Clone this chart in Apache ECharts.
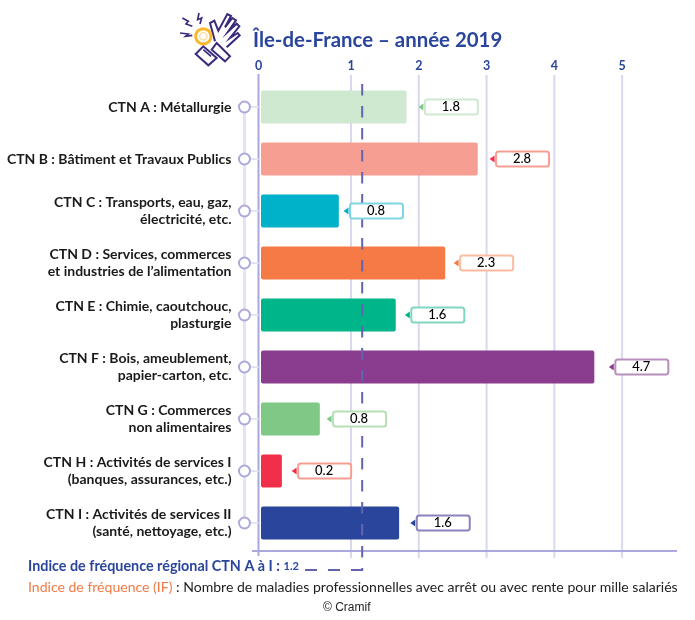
<!DOCTYPE html>
<html><head><meta charset="utf-8">
<style>html,body{margin:0;padding:0;background:#fff}#c{width:695px;height:620px}</style>
<script src="https://cdn.jsdelivr.net/npm/echarts@6/dist/echarts.min.js"></script>
</head><body><div id="c"></div>
<script>
const categories = ["CTN A : Métallurgie","CTN B : Bâtiment et Travaux Publics","CTN C : Transports, eau, gaz,\nélectricité, etc.","CTN D : Services, commerces\net industries de l’alimentation","CTN E : Chimie, caoutchouc,\nplasturgie","CTN F : Bois, ameublement,\npapier-carton, etc.","CTN G : Commerces\nnon alimentaires","CTN H : Activités de services I\n(banques, assurances, etc.)","CTN I : Activités de services II\n(santé, nettoyage, etc.)"];
const printedValues = ["1.8","2.8","0.8","2.3","1.6","4.7","0.8","0.2","1.6"];
const barValues = [1.82,2.87,0.82,2.39,1.66,4.59,0.54,-0.02,1.71];
const calloutStarts = [2.09,3.14,0.985,2.61,1.89,4.90,0.735,0.22,1.97];
const barColors = ["#cfe8d0","#f79e92","#00b2c9","#f57a45","#00b58a","#8a3d8e","#80c885","#f22f4a","#2a459c"];
const calloutBorders = ["#cfe8d0","#f79e92","#7fd6e2","#fbbc9f","#7fd6c2","#b78fbb","#b4e0b4","#f79e92","#8c82bd"];
const calloutTips = ["#80c885","#f22f4a","#00b2c9","#f57a45","#00b58a","#8a3d8e","#80c885","#f22f4a","#2a459c"];
const axisZero = -0.365, barStart = -0.328;
const tickValues = [axisZero,1,2,3,4,5];
const regionalLine = 1.165;
const navy = "#2a459c", grid = "#d8d8ee", strong = "#aaa8dc";
const FONT = "Lato";

const frame = (p, api) => {
  const ch = tickValues.map((v,i) => {
    const x = api.coord([v,0])[0];
    return {type:'line',shape:{x1:x,y1:i?75:74,x2:x,y2:i?558:556},style:{stroke:i?grid:strong,lineWidth:2}};
  });
  const left = api.coord([axisZero,0])[0], right = api.coord([5.81,0])[0];
  ch.push({type:'line',shape:{x1:left-6.5,y1:551,x2:right,y2:551},style:{stroke:strong,lineWidth:2}});
  const top = api.coord([axisZero,0]), bot = api.coord([axisZero,categories.length-1]);
  ch.push({type:'line',shape:{x1:top[0]-14,y1:top[1],x2:top[0]-14,y2:bot[1]},style:{stroke:'#e3e3f3',lineWidth:3}});
  categories.forEach((c,i)=>{
    const pt = api.coord([axisZero,i]);
    ch.push({type:'line',shape:{x1:pt[0]-14,y1:pt[1],x2:pt[0],y2:pt[1]},style:{stroke:'#e3e3f3',lineWidth:2}});
    ch.push({type:'circle',shape:{cx:pt[0]-14,cy:pt[1],r:5.5},style:{fill:'#fff',stroke:strong,lineWidth:2}});
  });
  return {type:'group',children:ch};
};
const bar = (p, api) => {
  const i = p.dataIndex, a = api.coord([barStart,i]), b = api.coord([api.value(0),i]);
  return {type:'rect',shape:{x:a[0],y:a[1]-16.5,width:b[0]-a[0],height:33,r:2},style:{fill:barColors[i]}};
};
const callout = (p, api) => {
  const i = p.dataIndex, pt = api.coord([calloutStarts[i],i]);
  const x = pt[0], y = pt[1];
  return {type:'group',children:[
    {type:'polygon',shape:{points:[[x-6.5,y],[x-1.5,y-3.5],[x-1.5,y+3.5]]},style:{fill:calloutTips[i]}},
    {type:'rect',shape:{x:x,y:y-7.5,width:53,height:15,r:2.5},style:{fill:'#fff',stroke:calloutBorders[i],lineWidth:2}},
    {type:'text',style:{x:x+26,y:y,text:printedValues[i],align:'center',verticalAlign:'middle',font:'500 13px '+FONT,fill:'#000'}}
  ]};
};
const refLine = (p, api) => {
  const x = api.coord([regionalLine,0])[0];
  return {type:'group',children:[
    {type:'line',shape:{x1:x,y1:84,x2:x,y2:571},style:{stroke:'#6065ad',lineWidth:2,lineDash:[11.5,10.5]}},
    {type:'line',shape:{x1:305,y1:570,x2:x+1,y2:570},style:{stroke:'#6065ad',lineWidth:2,lineDash:[12,11]}}
  ]};
};

const chart = echarts.init(document.getElementById('c'));
chart.setOption({
  animation:false,
  backgroundColor:'#fff',
  grid:{left:258.5,right:18,top:81,height:468,containLabel:false},
  xAxis:{type:'value',position:'top',min:axisZero,max:5.81,
    axisLine:{show:false},splitLine:{show:false},
    axisTick:{show:false,customValues:tickValues},
    axisLabel:{customValues:tickValues,margin:9,color:navy,fontFamily:FONT,fontSize:12.5,fontWeight:'bold',
      formatter:v=> v<0 ? '0' : String(Math.round(v))}},
  yAxis:{type:'category',inverse:true,data:categories,
    axisLine:{show:false},axisTick:{show:false},
    axisLabel:{margin:27,color:'#1a1a1a',fontFamily:FONT,fontSize:14,fontWeight:'bold',lineHeight:17,align:'right',padding:[0,0,2,0]}},
  series:[
    {type:'custom',name:'frame',z:1,silent:true,renderItem:frame,data:[[0,0]]},
    {type:'custom',name:'IF',z:3,silent:true,renderItem:bar,data:barValues.map((v,i)=>[v,i])},
    {type:'custom',name:'regional',z:5,silent:true,renderItem:refLine,data:[[regionalLine,0]]},
    {type:'custom',name:'callouts',z:6,silent:true,renderItem:callout,data:calloutStarts.map((v,i)=>[v,i])}
  ],
  graphic:[
    {type:'text',left:253,top:30,style:{text:'Île-de-France – année 2019',font:'bold 20.4px '+FONT,fill:navy}},
    {type:'text',left:28,top:559,style:{
      text:'{a|Indice de fréquence régional CTN A à I : }{b|1.2}',
      rich:{a:{fontFamily:FONT,fontSize:14.35,fontWeight:'bold',fill:navy},b:{fontFamily:FONT,fontSize:11,fontWeight:'bold',fill:navy}}}},
    {type:'text',left:28,top:580,style:{
      text:'{a|Indice de fréquence (IF)}{b| : Nombre de maladies professionnelles avec arrêt ou avec rente pour mille salariés}',
      rich:{a:{fontFamily:FONT,fontSize:14.05,fill:'#f57a45'},b:{fontFamily:FONT,fontSize:14.05,fill:'#222'}}}},
    {type:'text',left:323,top:602,style:{text:'© Cramif',font:'12px "Liberation Sans"',fill:'#222'}},
    {type:'group',x:175,y:8,scaleX:1/3,scaleY:1/3,children:[
      {type:'polyline',shape:{points:[[120,100],[105,45],[118,38],[130,68],[157,18],[168,24],[150,58],[172,30],[183,37],[160,70],[185,47],[193,55],[165,90],[188,75],[194,82],[155,118]]},style:{fill:'none',stroke:'#3a2a7d',lineWidth:6}},
      {type:'polygon',shape:{points:[[125,105],[165,145],[150,160],[110,125]]},style:{fill:'#fff',stroke:'#3a2a7d',lineWidth:6}},
      {type:'polygon',shape:{points:[[62,138],[85,115],[125,150],[100,172]]},style:{fill:'#fff',stroke:'#3a2a7d',lineWidth:6}},
      {type:'polyline',shape:{points:[[85,125],[108,145]]},style:{fill:'none',stroke:'#3a2a7d',lineWidth:5}},
      {type:'polyline',shape:{points:[[22,30],[40,40],[33,48],[52,55]]},style:{fill:'none',stroke:'#3a2a7d',lineWidth:5}},
      {type:'polyline',shape:{points:[[72,15],[68,35],[80,30],[75,48]]},style:{fill:'none',stroke:'#3a2a7d',lineWidth:5}},
      {type:'polyline',shape:{points:[[15,75],[40,78],[32,85],[52,82]]},style:{fill:'none',stroke:'#3a2a7d',lineWidth:5}},
      {type:'circle',shape:{cx:85,cy:85,r:23},style:{fill:'#fff',stroke:'#f9b92b',lineWidth:9}},
      {type:'circle',shape:{cx:85,cy:85,r:11},style:{fill:'#fff',stroke:'#fcdca0',lineWidth:4}}
    ]}
  ]
});
</script></body></html>
